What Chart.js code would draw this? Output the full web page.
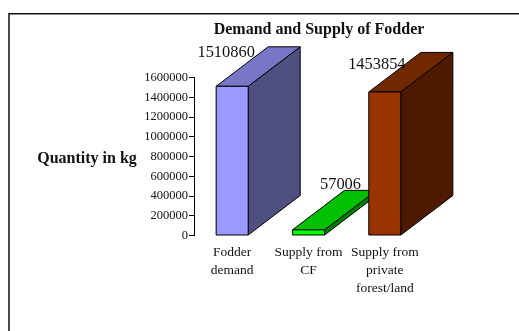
<!DOCTYPE html>
<html>
<head>
<meta charset="utf-8">
<style>
  html, body { margin: 0; padding: 0; background: #fff; }
  #wrap { position: absolute; left: 0; top: 0; width: 519px; height: 331px; }
</style>
<script src="https://cdn.jsdelivr.net/npm/chart.js@4"></script>
</head>
<body>
<div id="wrap"><canvas id="c" width="519" height="331"></canvas></div>
<script>
const categories = [["Fodder", "demand"], ["Supply from", "CF"], ["Supply from", "private", "forest/land"]];
const fodderValues = [1510860, 57006, 1453854];
const frontColors = ["#9999ff", "#00ff00", "#993300"];
const topColors = ["#7777c6", "#00c000", "#702800"];
const sideColors = ["#4f4f80", "#008000", "#4d1a00"];
const yTicks = [0, 200000, 400000, 600000, 800000, 1000000, 1200000, 1400000, 1600000];
const chartTitle = "Demand and Supply of Fodder";
const axisTitle = "Quantity in kg";

const serif = '"Liberation Serif", "Times New Roman", serif';
const depthX = 52, depthY = -39.5;
// Each value label sits at an offset from the top of its bar's front face.
const labelOffsetX = [-6, 32, -8];
const labelOffsetY = [-29, -41, -23];

function polygon(ctx, pts, fill) {
  ctx.beginPath();
  pts.forEach((p, i) => i ? ctx.lineTo(p[0], p[1]) : ctx.moveTo(p[0], p[1]));
  ctx.closePath();
  ctx.fillStyle = fill;
  ctx.fill();
  ctx.strokeStyle = "#000";
  ctx.lineWidth = 1;
  ctx.stroke();
}

// Extrudes every bar backwards, then writes the values, titles and frame.
const extrudedBars = {
  id: "extrudedBars",
  afterDatasetsDraw(chart) {
    const { ctx } = chart;
    const bars = chart.getDatasetMeta(0).data;
    bars.forEach((bar, i) => {
      const half = bar.width / 2;
      const l = bar.x - half, r = bar.x + half, t = bar.y, b = bar.base;
      polygon(ctx, [[r, t], [r + depthX, t + depthY], [r + depthX, b + depthY], [r, b]], sideColors[i]);
      polygon(ctx, [[l, t], [l + depthX, t + depthY], [r + depthX, t + depthY], [r, t]], topColors[i]);
      polygon(ctx, [[l, t], [r, t], [r, b], [l, b]], frontColors[i]);
    });

    ctx.save();
    ctx.fillStyle = "#111";
    ctx.font = "16.4px " + serif;
    ctx.textAlign = "center";
    ctx.textBaseline = "alphabetic";
    bars.forEach((bar, i) => {
      ctx.fillText(String(fodderValues[i]), bar.x + labelOffsetX[i], bar.y + labelOffsetY[i]);
    });
    ctx.font = "bold 16px " + serif;
    ctx.fillText(chartTitle, 319, 34);
    ctx.fillText(axisTitle, 87, 163);
    ctx.restore();

    // Frame along the top and left edges of the slide.
    ctx.save();
    ctx.strokeStyle = "#111";
    ctx.lineWidth = 1.5;
    ctx.beginPath();
    ctx.moveTo(9, 331);
    ctx.lineTo(9, 13.7);
    ctx.lineTo(519, 13.7);
    ctx.stroke();
    ctx.restore();
  }
};

new Chart(document.getElementById("c"), {
  type: "bar",
  data: {
    labels: categories,
    datasets: [{ data: fodderValues, backgroundColor: frontColors, borderColor: "#000", borderWidth: 1, categoryPercentage: 1, barPercentage: 0.42 }]
  },
  options: {
    responsive: false,
    animation: false,
    layout: { padding: { left: 0, right: 96, top: 77.5, bottom: 0 } },
    plugins: { legend: { display: false }, title: { display: false }, tooltip: { enabled: false } },
    scales: {
      x: {
        afterFit(axis) { axis.height = 95.5; },
        grid: { display: false, drawTicks: false },
        border: { display: false },
        ticks: { color: "#111", font: { family: serif, size: 13.5, lineHeight: 1.33 }, maxRotation: 0, autoSkip: false, padding: 8 }
      },
      y: {
        min: 0, max: 1600000,
        afterBuildTicks(axis) { axis.ticks = yTicks.map(v => ({ value: v })); },
        afterFit(axis) { axis.width = 194; },
        grid: { display: true, drawOnChartArea: false, drawTicks: true, tickLength: 5, color: "#000" },
        border: { display: true, color: "#000", width: 1 },
        ticks: { color: "#111", font: { family: serif, size: 12.5 }, padding: 1, callback: v => String(v) }
      }
    }
  },
  plugins: [extrudedBars]
});
</script>
</body>
</html>
